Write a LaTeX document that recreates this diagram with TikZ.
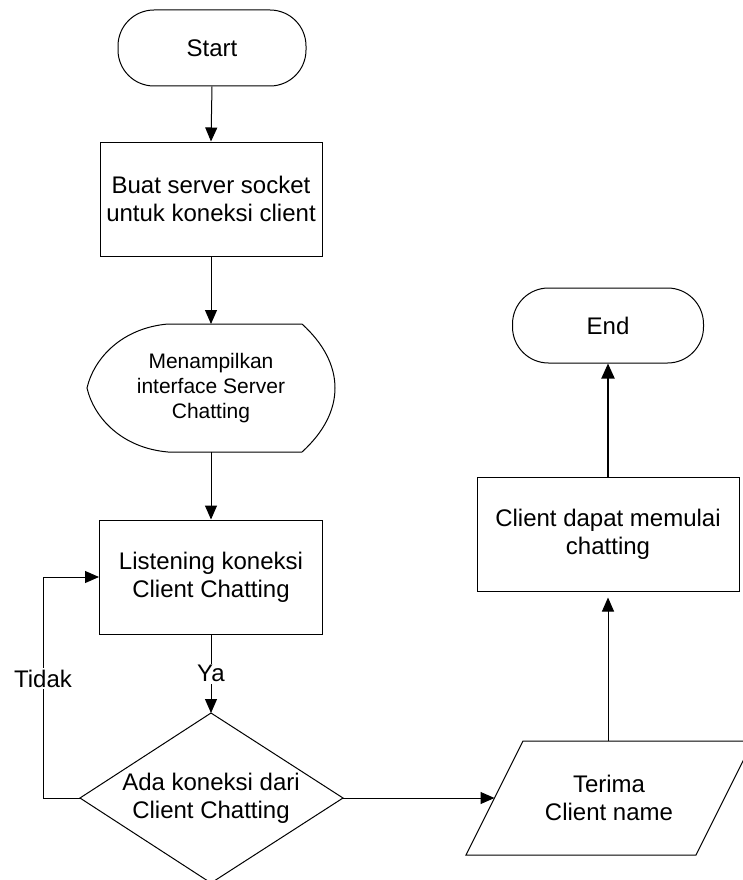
\documentclass[tikz,border=0pt]{standalone}
\usepackage{fontspec}
\setmainfont{Liberation Sans}
\usetikzlibrary{arrows.meta}
\begin{document}
\begin{tikzpicture}[x=1pt,y=-1pt,
  every node/.style={font=\fontsize{24}{28}\selectfont, align=center, inner sep=0pt},
  proc/.style={draw, line width=1pt, minimum width=#1, minimum height=114pt},
  term/.style={draw, line width=1pt, rounded corners=36pt, minimum width=188pt, minimum height=76pt},
  shapeline/.style={draw, line width=1pt},
  flow/.style={line width=1pt, -{Triangle[length=14pt,width=12pt]}},
  bigflow/.style={line width=2pt, -{Triangle[length=15pt,width=13pt]}},
  lbl/.style={fill=white, inner sep=1.5pt}]
\useasboundingbox (0,0) rectangle (742,880);

% left column
\node[term] (start) at (212,48) {Start};
\node[proc=222pt] (sock) at (211,199) {Buat server socket\\untuk koneksi client};

% display shape
\draw[shapeline] (168,324) -- (302,324)
  .. controls (324,344) and (335,366) .. (335,388)
  .. controls (335,410) and (324,432) .. (302,452)
  -- (168,452)
  .. controls (122,448) and (94,418) .. (87,388)
  .. controls (94,358) and (122,328) .. (168,324) -- cycle;
\coordinate (disptop) at (211,324);
\coordinate (dispbot) at (211,452);
\node[font=\fontsize{21}{25}\selectfont] (disp) at (211,388) {Menampilkan\\interface Server\\Chatting};

\node[proc=223pt] (listen) at (211,577) {Listening koneksi\\Client Chatting};

% decision
\coordinate (dtop) at (211,713);
\coordinate (dright) at (343,798);
\coordinate (dbot) at (211,883);
\coordinate (dleft) at (80,798);
\draw[shapeline] (dtop) -- (dright) -- (dbot) -- (dleft) -- cycle;
\node (dec) at (211,798) {Ada koneksi dari\\Client Chatting};

% right column
\draw[shapeline] (523,741) -- (753,741) -- (696,855) -- (466,855) -- cycle;
\node (recv) at (609,798) {Terima\\Client name};
\coordinate (recvw) at (494.5,798);
\coordinate (recvn) at (608,741);

\node[proc=262pt] (chat) at (608,534) {Client dapat memulai\\chatting};
\node[term, minimum width=191pt, minimum height=75pt] (end) at (608,325.5) {End};

% connectors
\draw[flow] (start.south) -- (sock.north);
\draw[flow] (sock.south) -- (disptop);
\draw[flow] (dispbot) -- (listen.north);
\draw[flow] (listen.south) -- node[lbl] {Ya} (dtop);
\draw[flow] (dleft) -- ++(-37,0) |- node[lbl, pos=0.27] {Tidak} (listen.west);
\draw[flow] (dright) -- (recvw);
\draw[flow, shorten >=6pt] (recvn) -- (chat.south);
\draw[bigflow] (chat.north) -- (end.south);
\end{tikzpicture}
\end{document}
